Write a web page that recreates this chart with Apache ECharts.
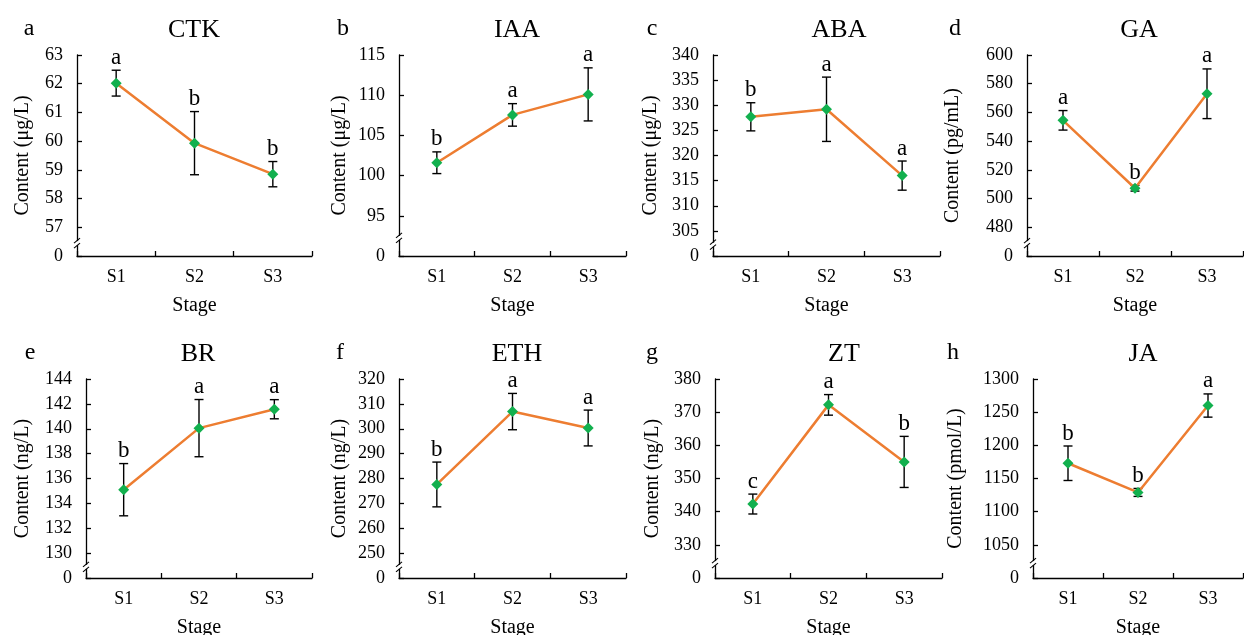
<!DOCTYPE html>
<html><head><meta charset="utf-8">
<script src="https://cdn.jsdelivr.net/npm/echarts@6/dist/echarts.min.js"></script>
<style>html,body{margin:0;padding:0;background:#fff}#c{width:1244px;height:635px}</style>
</head><body><div id="c"></div>
<script>
// ---------- data ----------
const stages = ['S1', 'S2', 'S3'];

const ctkMean = [62.02, 59.93, 58.85]; const ctkSd = [0.45, 1.10, 0.44]; const ctkSig = ['a', 'b', 'b'];
const iaaMean = [101.6, 107.55, 110.1]; const iaaSd = [1.35, 1.4, 3.3]; const iaaSig = ['b', 'a', 'a'];
const abaMean = [327.7, 329.2, 316.0]; const abaSd = [2.8, 6.4, 2.9]; const abaSig = ['b', 'a', 'a'];
const gaMean = [554.5, 507.2, 573.0]; const gaSd = [6.8, 2.0, 17.3]; const gaSig = ['a', 'b', 'a'];
const brMean = [135.1, 140.05, 141.57]; const brSd = [2.1, 2.3, 0.77]; const brSig = ['b', 'a', 'a'];
const ethMean = [277.6, 306.9, 300.3]; const ethSd = [9.0, 7.3, 7.2]; const ethSig = ['b', 'a', 'a'];
const ztMean = [342.3, 372.2, 355.0]; const ztSd = [3.0, 3.1, 7.7]; const ztSig = ['c', 'a', 'b'];
const jaMean = [1173, 1129, 1260]; const jaSd = [26, 6, 17.5]; const jaSig = ['b', 'b', 'a'];

// y-axis ticks: [broken-axis floor (labelled 0), max, step]
const ctkTicks = [56, 63, 1];
const iaaTicks = [90, 115, 5];
const abaTicks = [300, 340, 5];
const gaTicks = [460, 600, 20];
const brTicks = [128, 144, 2];
const ethTicks = [240, 320, 10];
const ztTicks = [320, 380, 10];
const jaTicks = [1000, 1300, 50];

const panels = [
  { tag: 'a', title: 'CTK', unit: 'Content (μg/L)', mean: ctkMean, sd: ctkSd, sig: ctkSig, ticks: ctkTicks },
  { tag: 'b', title: 'IAA', unit: 'Content (μg/L)', mean: iaaMean, sd: iaaSd, sig: iaaSig, ticks: iaaTicks },
  { tag: 'c', title: 'ABA', unit: 'Content (μg/L)', mean: abaMean, sd: abaSd, sig: abaSig, ticks: abaTicks },
  { tag: 'd', title: 'GA', unit: 'Content (pg/mL)', mean: gaMean, sd: gaSd, sig: gaSig, ticks: gaTicks },
  { tag: 'e', title: 'BR', unit: 'Content (ng/L)', mean: brMean, sd: brSd, sig: brSig, ticks: brTicks },
  { tag: 'f', title: 'ETH', unit: 'Content (ng/L)', mean: ethMean, sd: ethSd, sig: ethSig, ticks: ethTicks },
  { tag: 'g', title: 'ZT', unit: 'Content (ng/L)', mean: ztMean, sd: ztSd, sig: ztSig, ticks: ztTicks },
  { tag: 'h', title: 'JA', unit: 'Content (pmol/L)', mean: jaMean, sd: jaSd, sig: jaSig, ticks: jaTicks }
];

// ---------- layout ----------
const layout = [
  { left: 77, top: 55, width: 235, height: 201, titleX: 189, tagX: 24, titleY: 12, nameGap: 44 },
  { left: 399, top: 55, width: 227, height: 201, titleX: 512, tagX: 338, titleY: 12, nameGap: 49 },
  { left: 713, top: 55, width: 227, height: 201, titleX: 834, tagX: 647, titleY: 12, nameGap: 52 },
  { left: 1027, top: 55, width: 216, height: 201, titleX: 1134, tagX: 950, titleY: 12, nameGap: 64 },
  { left: 86, top: 379, width: 226, height: 199, titleX: 193, tagX: 25, titleY: 336, nameGap: 53 },
  { left: 399, top: 379, width: 227, height: 199, titleX: 512, tagX: 335, titleY: 336, nameGap: 49 },
  { left: 715, top: 379, width: 227, height: 199, titleX: 839, tagX: 647, titleY: 336, nameGap: 52 },
  { left: 1033, top: 379, width: 210, height: 199, titleX: 1138, tagX: 948, titleY: 336, nameGap: 67 }
];

const FONT = '"Liberation Serif", "Times New Roman", serif';
const ORANGE = '#ED7D31';
const GREEN = '#12B04E';

const grid = [], xAxis = [], yAxis = [], series = [], title = [];

panels.forEach(function (p, k) {
  const L = layout[k];
  grid.push({ left: L.left, top: L.top, width: L.width, height: L.height, containLabel: false, outerBoundsMode: 'none' });
  xAxis.push({
    type: 'category', gridIndex: k, data: stages, boundaryGap: true,
    name: 'Stage', nameLocation: 'middle', nameGap: 40,
    nameTextStyle: { fontFamily: FONT, fontSize: 20, color: '#000' },
    axisLine: { show: true, lineStyle: { color: '#000', width: 1.3 } },
    axisTick: { show: true, inside: true, length: 5, interval: 0, lineStyle: { color: '#000', width: 1.3 } },
    axisLabel: { fontFamily: FONT, fontSize: 18, color: '#000', margin: 12 },
    splitLine: { show: false }
  });
  yAxis.push({
    type: 'value', gridIndex: k, min: p.ticks[0], max: p.ticks[1], interval: p.ticks[2],
    name: p.unit, nameLocation: 'middle', nameGap: L.nameGap, nameRotate: 90,
    nameTextStyle: { fontFamily: FONT, fontSize: 20, color: '#000' },
    axisLine: { show: true, lineStyle: { color: '#000', width: 1.3 } },
    axisTick: { show: true, inside: true, length: 5, lineStyle: { color: '#000', width: 1.3 } },
    axisLabel: {
      fontFamily: FONT, fontSize: 18, color: '#000', margin: 14,
      formatter: (function (mn) { return function (v) { return v === mn ? '0' : String(v); }; })(p.ticks[0])
    },
    splitLine: { show: false }
  });
  title.push({ text: p.title, left: L.titleX, top: L.titleY, textAlign: 'center',
    textStyle: { fontFamily: FONT, fontSize: 26, fontWeight: 'normal', color: '#000' } });
  title.push({ text: p.tag, left: L.tagX, top: L.titleY, textAlign: 'center',
    textStyle: { fontFamily: FONT, fontSize: 24, fontWeight: 'normal', color: '#000' } });

  series.push({
    type: 'custom', xAxisIndex: k, yAxisIndex: k, z: 3,
    data: p.mean.map(function (m, i) { return [i, m, p.sd[i]]; }),
    renderItem: function (params, api) {
      const i = params.dataIndex;
      const m = api.value(1), s = api.value(2);
      const x = api.coord([i, m])[0];
      const yT = api.coord([i, m + s])[1];
      const yB = api.coord([i, m - s])[1];
      const st = { stroke: '#000', lineWidth: 1.4 };
      const ch = [
        { type: 'line', shape: { x1: x, y1: yT, x2: x, y2: yB }, style: st },
        { type: 'line', shape: { x1: x - 4.5, y1: yT, x2: x + 4.5, y2: yT }, style: st },
        { type: 'line', shape: { x1: x - 4.5, y1: yB, x2: x + 4.5, y2: yB }, style: st },
        { type: 'text', style: { text: p.sig[i], x: x, y: yT - 1, align: 'center', verticalAlign: 'bottom',
            fontFamily: FONT, fontSize: 23, fill: '#000' } }
      ];
      if (i === 0) {
        const cs = params.coordSys;
        const yb = api.coord([0, p.ticks[0] + p.ticks[2] * 0.45])[1];
        const ax = cs.x;
        ch.push({ type: 'rect', shape: { x: ax - 2, y: yb - 2, width: 4, height: 4 }, style: { fill: '#fff' } });
        ch.push({ type: 'line', shape: { x1: ax - 3, y1: yb - 0, x2: ax + 3, y2: yb - 5 }, style: { stroke: '#000', lineWidth: 1.1 } });
        ch.push({ type: 'line', shape: { x1: ax - 3, y1: yb + 5, x2: ax + 3, y2: yb + 0 }, style: { stroke: '#000', lineWidth: 1.1 } });
      }
      return { type: 'group', children: ch };
    },
    silent: true, animation: false
  });
  series.push({
    type: 'line', xAxisIndex: k, yAxisIndex: k, z: 4,
    data: p.mean,
    symbol: 'diamond', symbolSize: 11,
    itemStyle: { color: GREEN },
    lineStyle: { color: ORANGE, width: 2.5 },
    silent: true, animation: false
  });
});

const chart = echarts.init(document.getElementById('c'), null, { renderer: 'canvas' });
chart.setOption({ backgroundColor: '#fff', animation: false, title: title, grid: grid, xAxis: xAxis, yAxis: yAxis, series: series });
</script>
</body></html>
